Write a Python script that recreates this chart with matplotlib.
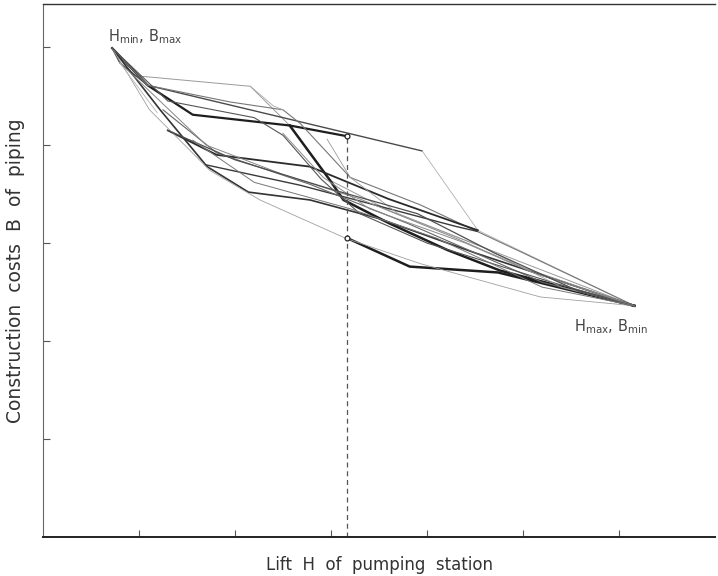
import matplotlib.pyplot as plt

# Lift H (x) and construction costs B (y) of the variant paths, in axis units
h_start, b_start = 0.72, 4.99
h_end, b_end = 6.16, 2.36

paths = [
    # (H values, B values, grey, width)
    ([0.72, 0.94, 2.16, 2.57, 2.99, 3.61, 4.97, 6.16], [4.99, 4.71, 4.60, 4.20, 3.64, 3.33, 2.81, 2.36], '#9a9a9a', 0.7),
    ([0.72, 1.09, 1.56, 2.57, 3.17], [4.99, 4.61, 4.31, 4.20, 4.09], '#1e1e1e', 1.6),
    ([2.57, 2.99, 3.13, 3.61, 4.21, 4.76, 6.16], [4.20, 3.64, 3.44, 3.20, 2.93, 2.72, 2.36], '#1e1e1e', 1.8),
    ([3.17, 3.82, 4.74, 6.16], [3.05, 2.76, 2.70, 2.36], '#1e1e1e', 1.8),
    ([0.72, 0.80, 1.09, 2.50, 3.95], [4.99, 4.84, 4.61, 4.28, 3.94], '#4a4a4a', 1.0),
    ([3.95, 4.53, 6.16], [3.94, 3.13, 2.36], '#b0b0b0', 0.6),
    ([0.72, 1.09, 1.95, 2.50, 2.68, 3.20, 3.93, 5.00, 6.16], [4.99, 4.61, 4.44, 4.36, 4.22, 3.67, 3.39, 2.90, 2.36], '#777777', 0.8),
    ([1.30, 1.81, 2.78, 3.60, 4.53], [4.15, 3.90, 3.78, 3.45, 3.13], '#2a2a2a', 1.3),
    ([1.69, 2.68, 4.30, 4.52], [3.80, 3.59, 3.17, 3.12], '#3a3a3a', 1.0),
    ([0.72, 1.22, 1.71, 2.14, 2.78, 3.50, 4.50, 6.16], [4.99, 4.36, 3.78, 3.52, 3.44, 3.25, 2.90, 2.36], '#333333', 1.2),
    ([0.72, 1.11, 1.74, 2.26, 3.15, 3.93, 5.18, 6.16], [4.99, 4.36, 3.74, 3.44, 3.05, 2.79, 2.45, 2.36], '#a0a0a0', 0.6),
    ([1.25, 1.81, 2.78, 3.80, 5.20, 6.16], [4.36, 3.92, 3.60, 3.20, 2.60, 2.36], '#666666', 0.8),
    ([0.80, 1.70, 2.50, 3.30, 4.30, 5.00, 6.16], [4.84, 4.00, 3.70, 3.45, 3.05, 2.75, 2.36], '#888888', 0.7),
    ([0.72, 1.30, 2.20, 2.50, 2.90, 3.30, 4.00, 5.30, 6.16], [4.99, 4.45, 4.28, 4.10, 3.65, 3.30, 3.00, 2.60, 2.36], '#555555', 0.8),
    ([2.50, 2.92, 3.40, 4.40, 5.10, 6.16], [4.12, 3.67, 3.35, 3.00, 2.70, 2.36], '#8a8a8a', 0.7),
    ([2.96, 3.20, 3.70, 4.60, 5.40, 6.16], [4.06, 3.67, 3.30, 2.95, 2.55, 2.36], '#9a9a9a', 0.6),
    ([1.30, 2.00, 3.00, 3.90, 4.70, 5.60, 6.16], [4.15, 3.85, 3.55, 3.30, 2.90, 2.50, 2.36], '#505050', 0.9),
    ([1.56, 2.20, 3.20, 4.10, 5.20, 6.16], [4.05, 3.62, 3.35, 3.05, 2.55, 2.36], '#777777', 0.7),
    ([0.80, 1.19], [4.84, 4.33], '#b5b5b5', 0.6),
    ([2.16, 2.40, 2.50], [4.60, 4.40, 4.36], '#aaaaaa', 0.6),
]

h_opt = 3.17
b_opt_upper = 4.09
b_opt_lower = 3.05

fig = plt.figure(figsize=(7.18, 5.76), dpi=100)
ax = fig.add_axes([43 / 718, 39 / 576, 672 / 718, 533 / 576])

for hs, bs, col, lw in paths:
    ax.plot(hs, bs, color=col, linewidth=lw, solid_joinstyle='round')

# vertical dashed line at the chosen lift
ax.plot([h_opt, h_opt], [0, b_opt_upper], color='#555555', linewidth=0.9, linestyle=(0, (4, 3)))
ax.plot([h_opt, h_opt], [b_opt_upper, b_opt_lower], 'o', markersize=3.5,
        markerfacecolor='white', markeredgecolor='#222222', markeredgewidth=0.9)

ax.text(0.68, 5.11, r'H$_{\rm min}$, B$_{\rm max}$', fontsize=10.5, color='#444444', ha='left', va='center')
ax.text(5.53, 2.15, r'H$_{\rm max}$, B$_{\rm min}$', fontsize=10.5, color='#444444', ha='left', va='center')

ax.set_xlim(0, 7)
ax.set_ylim(0, 5.44)
ax.set_xticks([1, 2, 3, 4, 5, 6])
ax.set_yticks([1, 2, 3, 4, 5])
ax.tick_params(direction='in', length=5, width=0.8, colors='#555555',
               labelbottom=False, labelleft=False)

ax.spines['right'].set_visible(False)
ax.spines['bottom'].set_linewidth(1.4)
ax.spines['bottom'].set_color('#222222')
ax.spines['top'].set_linewidth(1.0)
ax.spines['top'].set_color('#333333')
ax.spines['left'].set_linewidth(0.8)
ax.spines['left'].set_color('#666666')

ax.set_xlabel('Lift  H  of  pumping  station', fontsize=12, color='#333333', labelpad=14)
ax.set_ylabel('Construction  costs  B  of  piping', fontsize=13.5, color='#333333', labelpad=13)

plt.savefig('out.png', dpi=100)
